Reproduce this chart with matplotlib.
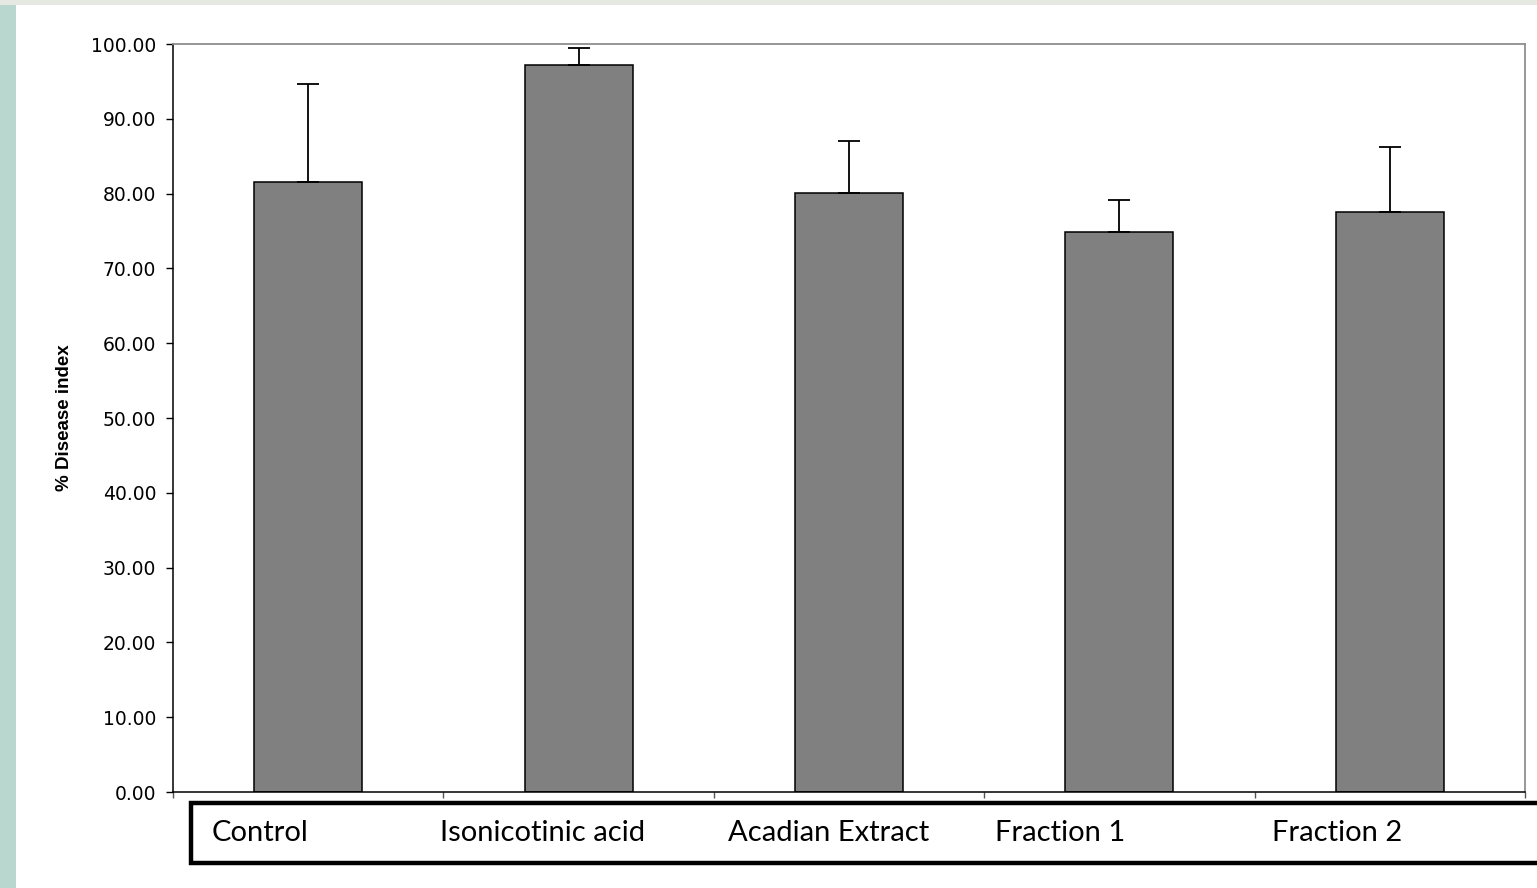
import numpy as np
import matplotlib.pyplot as plt
from matplotlib.patches import Rectangle

categories = ['Control', 'Isonicotinic acid', 'Acadian Extract', 'Fraction 1', 'Fraction 2']
means = [81.5, 97.2, 80.1, 74.8, 77.6]
errors = [13.2, 2.3, 6.9, 4.3, 8.6]

W, H = 1537, 888
fig = plt.figure(figsize=(W / 100, H / 100), dpi=100, facecolor='white')

# slide background strips
fig.patches.append(Rectangle((0, 0), 16 / W, 1, transform=fig.transFigure,
                             facecolor='#b9d6cf', edgecolor='none', zorder=0))
fig.patches.append(Rectangle((0, 1 - 5 / H), 1, 5 / H, transform=fig.transFigure,
                             facecolor='#e6e9e1', edgecolor='none', zorder=0))

ax = fig.add_axes([173 / W, (H - 792) / H, (1525 - 173) / W, (792 - 44) / H])
x = np.arange(len(categories))
ax.bar(x, means, width=0.4, color='#808080', edgecolor='black', linewidth=1.1, zorder=2)
ax.errorbar(x, means, yerr=[np.zeros(len(errors)), errors], fmt='none',
            ecolor='black', elinewidth=1.3, capsize=8, capthick=1.3, zorder=3)

ax.set_xlim(-0.5, len(categories) - 0.5)
ax.set_ylim(0, 100)
ax.set_yticks(np.arange(0, 101, 10))
ax.set_yticklabels([f'{v:.2f}' for v in np.arange(0, 101, 10)], fontsize=13.5)
ax.set_xticks(np.arange(-0.5, len(categories), 1.0))
ax.set_xticklabels([])
ax.tick_params(axis='y', direction='out', length=5, width=1, pad=7)
ax.tick_params(axis='x', direction='out', length=4, width=1, color='#555555')
for s in ['top', 'right']:
    ax.spines[s].set_color('#8f8f8f')
    ax.spines[s].set_linewidth(1.3)
for s in ['left', 'bottom']:
    ax.spines[s].set_color('black')
    ax.spines[s].set_linewidth(1.1)
ax.set_ylabel('% Disease index', fontsize=13.5, fontweight='bold',
              family='Liberation Sans', labelpad=13)

# label box under the axis
fig.patches.append(Rectangle((191 / W, (H - 863) / H), (W + 20 - 191) / W, 60 / H,
                             transform=fig.transFigure, facecolor='white',
                             edgecolor='black', linewidth=3.2, zorder=1))
label_x = [212, 440, 728, 995, 1272]
for lx, name in zip(label_x, categories):
    fig.text(lx / W, (H - 833) / H, name, fontsize=21, family='Lato',
             ha='left', va='center')

fig.savefig('out.png', dpi=100)
